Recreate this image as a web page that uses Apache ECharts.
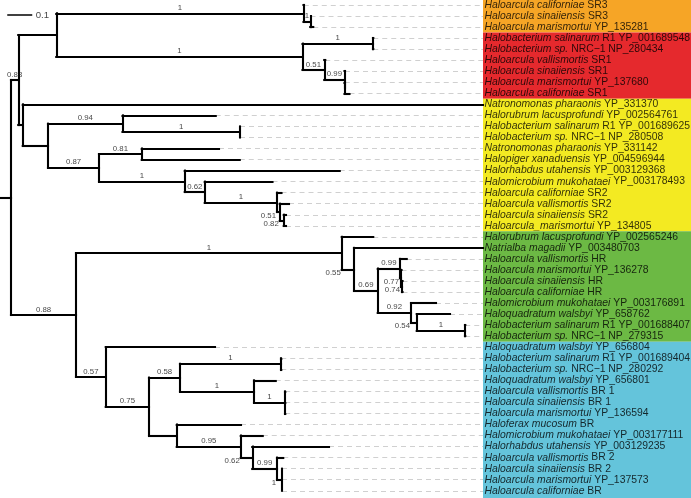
<!DOCTYPE html>
<html><head><meta charset="utf-8">
<script src="https://cdn.jsdelivr.net/npm/echarts@6/dist/echarts.min.js"></script>
<style>html,body{margin:0;padding:0;background:#fff}#c{width:691px;height:498px}</style>
</head><body><div id="c"></div>
<script>
// Phylogenetic tree (Newick): leaves are L1..L45 (top to bottom), internal labels = support values.
// A trailing "<" on a support value means it is written beside the node instead of above its branch.
const treeNewick =
 "((((L1:0.001,(L2:0.001,L3:0.012)1:0.027)1:0.989," +
 "((L4:0.001,L5:0.001)1:0.282,(L6:0.004,(L7:0.002,(L8:0.001,L9:0.02):0)0.99:0.081)0.51:0.087)1:0.985):0.152," +
 "(L10:1.841,((L11:0.373,(L12:0.001,L13:0.001)1:0.469)0.94:0.298," +
 "((L14:0.309,L15:0.392)0.81:0.171,(L16:0.62,(L17:0.271,(L18:0.018,(L19:0.037,(L20:0.009,L21:0.009)0.82<:0.016)0.51<:0.011)1:0.289)0.62:0.08)1:0.343)0.87:0.204):0.101):0.018)0.88:0.029," +
 "((L22:0.126,(L23:0.516,((L24:0.027,(L25:0.002,(L26:0.002,L27:0.002)0.74<:0.004)0.77<:0.004)0.99:0.089," +
 "(L28:0.1,(L29:0.133,(L30:0.001,L31:0.001)1:0.193)0.54<:0.023)0.92:0.133)0.69:0.095)0.55<:0.049)1:1.063," +
 "(L32:0.437,(((L33:0.001,L34:0.001)1:0.404,(L35:0.087,(L36:0.001,L37:0.001,L38:0.001)1:0.124)1:0.296)0.58:0.124," +
 "(L39:0.257,(L40:0.088,(L41:0.307,(L42:0.025,(L43:0.001,L44:0.001,L45:0.001)1<:0.019)0.99:0.099)0.62<:0.046)0.95:0.256):0.111)0.75:0.173)0.57:0.119)0.88:0.26):0.044;";

const leafSpecies = [
 "Haloarcula californiae","Haloarcula sinaiiensis","Haloarcula marismortui",
 "Halobacterium salinarum","Halobacterium sp.","Haloarcula vallismortis","Haloarcula sinaiiensis","Haloarcula marismortui","Haloarcula californiae",
 "Natronomonas pharaonis","Halorubrum lacusprofundi","Halobacterium salinarum","Halobacterium sp.","Natronomonas pharaonis","Halopiger xanaduensis","Halorhabdus utahensis","Halomicrobium mukohataei","Haloarcula californiae","Haloarcula vallismortis","Haloarcula sinaiiensis","Haloarcula_marismortui",
 "Halorubrum lacusprofundi","Natrialba magadii","Haloarcula vallismortis","Haloarcula marismortui","Haloarcula sinaiiensis","Haloarcula californiae","Halomicrobium mukohataei","Haloquadratum walsbyi","Halobacterium salinarum","Halobacterium sp.",
 "Haloquadratum walsbyi","Halobacterium salinarum","Halobacterium sp.","Haloquadratum walsbyi","Haloarcula vallismortis","Haloarcula sinaiiensis","Haloarcula marismortui","Haloferax mucosum","Halomicrobium mukohataei","Halorhabdus utahensis","Haloarcula vallismortis","Haloarcula sinaiiensis","Haloarcula marismortui","Haloarcula californiae"
];
const leafSuffix = [
 "SR3","SR3","YP_135281",
 "R1 YP_001689548","NRC\u22121 NP_280434","SR1","SR1","YP_137680","SR1",
 "YP_331370","YP_002564761","R1 YP_001689625","NRC\u22121 NP_280508","YP_331142","YP_004596944","YP_003129368","YP_003178493","SR2","SR2","SR2","YP_134805",
 "YP_002565246","YP_003480703","HR","YP_136278","HR","HR","YP_003176891","YP_658762","R1 YP_001688407","NRC\u22121 NP_279315",
 "YP_656804","R1 YP_001689404","NRC\u22121 NP_280292","YP_656801","BR 1","BR 1","YP_136594","BR","YP_003177111","YP_003129235","BR 2","BR 2","YP_137573","BR"
];
const groupNames = ["SR3","SR1","SR2","HR","BR"];
const groupFirstLeaf = [1,4,10,22,32];
const groupLastLeaf = [3,9,21,31,45];
const groupColors = ["#F6A526","#E5292D","#F3EA22","#6CB944","#64C4DB"];
const scaleBarLength = 0.1;

// ---------- parse ----------
function parseNewick(str){
  const s = str.replace(/\s+/g,'');
  let i = 0;
  function node(){
    const n = {children:[], name:'', len:0};
    if (s[i] === '('){
      i++; n.children.push(node());
      while (s[i] === ','){ i++; n.children.push(node()); }
      i++;
    }
    let nm = '';
    while (i < s.length && !':,);'.includes(s[i])) nm += s[i++];
    n.name = nm;
    if (s[i] === ':'){
      i++; let l = '';
      while (i < s.length && !',);'.includes(s[i])) l += s[i++];
      n.len = parseFloat(l);
    }
    return n;
  }
  return node();
}
const root = parseNewick(treeNewick);

// ---------- layout ----------
const treeSegs = [], leaderSegs = [], supportTop = [], supportSide = [];
const labelX = 1.932;
function layout(n, px){
  n.x = px + n.len;
  if (n.children.length === 0){
    n.y = parseInt(n.name.slice(1), 10) - 1;
    if (n.x < labelX) leaderSegs.push([[n.x, n.y],[labelX, n.y]]);
  } else {
    n.children.forEach(c => layout(c, n.x));
    const f = n.children[0].y, l = n.children[n.children.length-1].y;
    n.y = (f + l) / 2;
    treeSegs.push([[n.x, f],[n.x, l]]);
    n.children.forEach(c => {
      treeSegs.push([[n.x, c.y],[c.x, c.y]]);
      if (c.children.length && c.name){
        if (c.name.endsWith('<')) supportSide.push({value:[n.x, c.y], text:c.name.slice(0,-1)});
        else supportTop.push({value:[(n.x + c.x)/2, c.y], text:c.name});
      }
    });
  }
}
layout(root, 0);
treeSegs.push([[0, root.y],[root.x, root.y]]);

const xMin = 0, xMax = 2.764, yMin = -0.453, yMax = 44.656;
const bands = groupNames.map((g, k) => [
  {xAxis: labelX, yAxis: k === 0 ? yMin : groupFirstLeaf[k]-1.5, itemStyle:{color:groupColors[k], opacity:1}},
  {xAxis: xMax, yAxis: k === groupNames.length-1 ? yMax : groupLastLeaf[k]-0.5}
]);

const FONT = "'Liberation Sans', Arial, Helvetica, sans-serif";
const chart = echarts.init(document.getElementById('c'), null, {renderer:'canvas'});
chart.setOption({
  animation:false,
  backgroundColor:'#fff',
  grid:{left:0, right:0, top:0, bottom:0},
  xAxis:{type:'value', min:xMin, max:xMax, show:false},
  yAxis:{type:'value', inverse:true, min:yMin, max:yMax, show:false},
  series:[
    {type:'line', data:[], z:0, silent:true,
     markArea:{silent:true, data:bands, label:{show:false}}},
    {type:'lines', coordinateSystem:'cartesian2d', polyline:false, silent:true, z:2,
     data:leaderSegs.map(s=>({coords:s})),
     lineStyle:{color:'#d0d0d0', width:1, opacity:1, type:[5,4]}},
    {type:'lines', coordinateSystem:'cartesian2d', polyline:false, silent:true, z:3,
     data:treeSegs.map(s=>({coords:s})),
     lineStyle:{color:'#000', width:2.1, opacity:1, cap:'square'}},
    // scale bar
    {type:'lines', coordinateSystem:'cartesian2d', polyline:false, silent:true, z:3,
     data:[{coords:[[0.029, 0.906],[0.029 + scaleBarLength, 0.906]]}],
     lineStyle:{color:'#000', width:1.5, opacity:1}},
    {type:'scatter', silent:true, z:4, symbolSize:0,
     data:[[0.029 + scaleBarLength, 0.906]],
     label:{show:true, position:'right', distance:3.5, formatter:String(scaleBarLength),
            fontFamily:FONT, fontSize:9.6, color:'#111'}},
    // support labels
    {type:'scatter', silent:true, z:4, symbolSize:0,
     data:supportTop.map(d=>({value:d.value, text:d.text})),
     label:{show:true, position:'top', distance:1.5, formatter:p=>p.data.text,
            fontFamily:FONT, fontSize:7.8, color:'#111'}},
    {type:'scatter', silent:true, z:4, symbolSize:0,
     data:supportSide.map(d=>({value:d.value, text:d.text})),
     label:{show:true, position:'left', distance:1, offset:[0,3.5], formatter:p=>p.data.text,
            fontFamily:FONT, fontSize:7.8, color:'#111'}},
    // leaf labels
    {type:'scatter', silent:true, z:5, symbolSize:0,
     data:leafSpecies.map((s,i)=>[labelX, i]),
     label:{show:true, position:'right', distance:1.5, offset:[0,1],
            formatter:p=>'{it|'+leafSpecies[p.dataIndex]+'}{rm| '+leafSuffix[p.dataIndex]+'}',
            rich:{it:{fontFamily:FONT, fontSize:10.4, fontStyle:'italic', color:'#000'},
                  rm:{fontFamily:FONT, fontSize:10.4, color:'#000'}}},
     labelLayout:{hideOverlap:false}}
  ]
});
</script></body></html>
